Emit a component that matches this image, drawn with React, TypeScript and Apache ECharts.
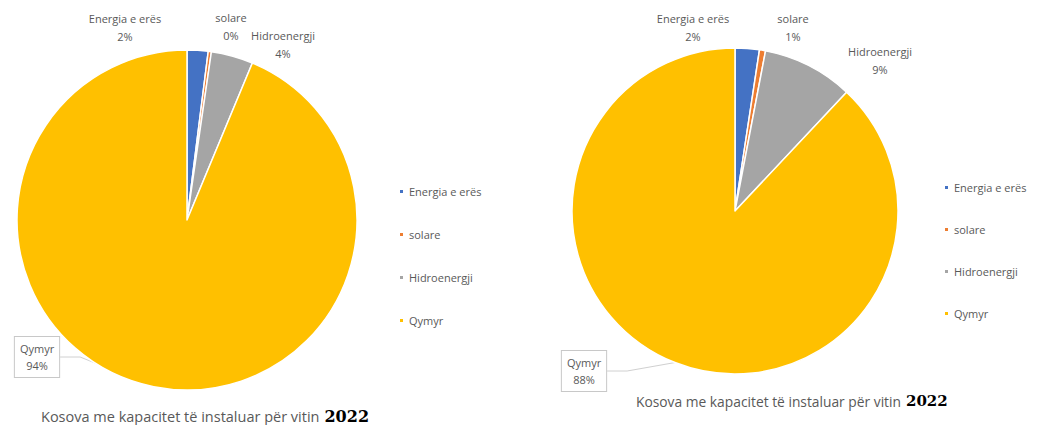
import React, { useEffect, useRef } from "react";
import * as echarts from "echarts";

const categories = ["Energia e erës", "solare", "Hidroenergji", "Qymyr"];
const leftValues = [2, 0.3, 4, 94];
const rightValues = [2.4, 0.6, 9, 88];
const colors = ["#4472C4", "#ED7D31", "#A5A5A5", "#FFC000"];
const titleText = "Kosova me kapacitet të instaluar për vitin";
const titleYear = "2022";

// label anchor positions (layout, not data)
const leftLabelPos = [
  [125, 27],
  [231, 26],
  [283, 44],
  [37, 357],
];
const rightLabelPos = [
  [693, 27],
  [793, 27],
  [880, 60],
  [584, 371],
];

function buildSeries(values: number[], center: [number, number], radius: number, pos: number[][]) {
  return {
    type: "pie",
    center,
    radius,
    startAngle: 90,
    clockwise: true,
    avoidLabelOverlap: false,
    itemStyle: { borderColor: "#ffffff", borderWidth: 1.5 },
    label: {
      show: true,
      position: "outside",
      formatter: (p: any) => `${p.name}\n${Math.round(p.percent)}%`,
      color: "#595959",
      fontSize: 11,
      fontFamily: "Open Sans",
      lineHeight: 18,
      align: "center",
    },
    labelLine: { show: false },
    labelLayout: (params: any) => {
      const pt = pos[params.dataIndex];
      return { x: pt[0], y: pt[1], align: "center", verticalAlign: "middle" };
    },
    emphasis: { disabled: true },
    data: categories.map((name, i) => {
      const item: any = { name, value: values[i], itemStyle: { color: colors[i] } };
      if (name === "Qymyr") {
        item.label = {
          backgroundColor: "#ffffff",
          borderColor: "#c8c8c8",
          borderWidth: 1,
          padding: [3, 5],
          lineHeight: 17,
        };
        item.labelLine = {
          show: true,
          length: 20,
          length2: 20,
          lineStyle: { color: "#d0d0d0", width: 1 },
        };
      }
      return item;
    }),
  };
}

function titleRich(size: number, yearSize: number) {
  return {
    rich: {
      a: { color: "#595959", fontSize: size, fontWeight: "normal", fontFamily: "Open Sans" },
      b: { color: "#000000", fontSize: yearSize, fontWeight: "bold", fontFamily: "DejaVu Serif" },
    },
  };
}

export default function App() {
  const ref = useRef<HTMLDivElement>(null);
  useEffect(() => {
    document.body.style.margin = "0";
    const chart = echarts.init(ref.current!, null, { renderer: "svg" });
    const legendBase = {
      orient: "vertical",
      icon: "rect",
      itemWidth: 5,
      itemHeight: 5,
      selectedMode: false,
      data: categories,
      textStyle: { color: "#595959", fontSize: 11, fontFamily: "Open Sans" },
    };
    chart.setOption({
      animation: false,
      backgroundColor: "#ffffff",
      color: colors,
      title: [
        {
          text: `{a|${titleText}} {b|${titleYear}}`,
          left: 36,
          top: 402,
          textStyle: titleRich(14.5, 16),
        },
        {
          text: `{a|${titleText}} {b|${titleYear}}`,
          left: 631,
          top: 387,
          textStyle: titleRich(13.8, 15),
        },
      ],
      legend: [
        { ...legendBase, left: 393, top: 181, itemGap: 32 },
        { ...legendBase, left: 938, top: 177, itemGap: 31 },
      ],
      series: [
        buildSeries(leftValues, [187, 220], 170, leftLabelPos),
        buildSeries(rightValues, [735, 211], 163, rightLabelPos),
      ],
    });
    return () => chart.dispose();
  }, []);
  return <div ref={ref} style={{ width: 1048, height: 425 }} />;
}
